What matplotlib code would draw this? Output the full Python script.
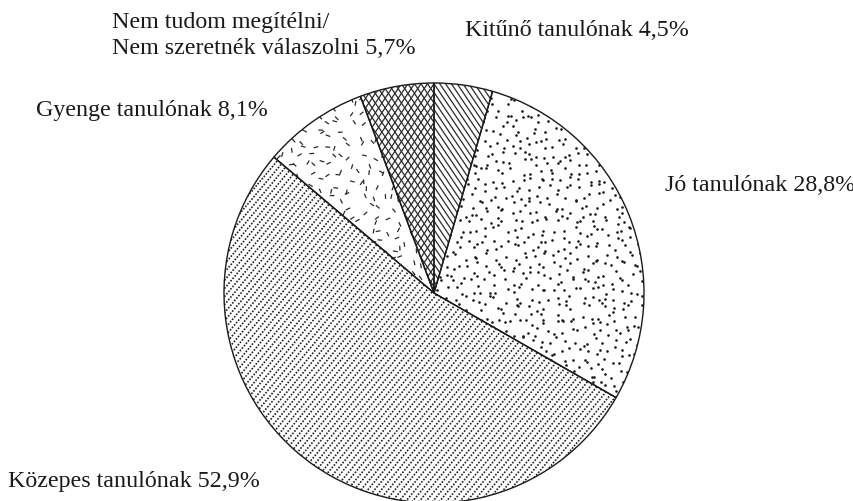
import numpy as np
import matplotlib.pyplot as plt
from matplotlib.collections import LineCollection

# Share of answers, clockwise from 12 o'clock
categories = ["Kitűnő tanulónak", "Jó tanulónak", "Közepes tanulónak",
              "Gyenge tanulónak", "Nem tudom megítélni/\nNem szeretnék válaszolni"]
shares = [4.5, 28.8, 52.9, 8.1, 5.7]

W, H = 854, 501
CX, CY, R = 434, H - 293, 210

plt.rcParams["font.family"] = ["Liberation Serif", "DejaVu Serif"]

fig = plt.figure(figsize=(W / 100, H / 100), dpi=100)
ax = fig.add_axes([0, 0, 1, 1])

wedges, _ = ax.pie(shares, startangle=90, counterclock=False, center=(CX, CY), radius=R,
                   colors=["white"] * len(shares), wedgeprops=dict(linewidth=0, zorder=1))
outline, _ = ax.pie(shares, startangle=90, counterclock=False, center=(CX, CY), radius=R,
                    wedgeprops=dict(facecolor="none", edgecolor="#1a1a1a", linewidth=1.0, zorder=5))
ax.set_xlim(0, W)
ax.set_ylim(0, H)
ax.set_aspect("equal")
ax.axis("off")

rng = np.random.default_rng(7)


def hatch_lines(angle, spacing):
    th = np.radians(angle)
    d = np.array([np.cos(th), np.sin(th)])
    n = np.array([-np.sin(th), np.cos(th)])
    L = R * 1.5
    segs = []
    for t in np.arange(-L, L, spacing):
        c = np.array([CX, CY]) + n * t
        segs.append([c - d * L, c + d * L])
    return segs


def jittered_points(step):
    # grid with random offsets, so the texture looks even without clumps
    g = np.arange(-R, R, step)
    gx, gy = np.meshgrid(g, g)
    pts = np.column_stack([gx.ravel(), gy.ravel()])
    pts = pts + rng.uniform(-step * 0.5, step * 0.5, size=pts.shape)
    return pts + np.array([CX, CY])


def add_clipped(coll, wedge):
    coll.set_zorder(2)
    ax.add_collection(coll)
    coll.set_clip_path(wedge)


# Kitűnő: plain back-slash hatch
add_clipped(LineCollection(hatch_lines(-56, 4.8), colors="#2a2a2a", linewidths=0.9), wedges[0])

# Jó: scattered dots
pts = jittered_points(8.5)
sc = ax.scatter(pts[:, 0], pts[:, 1], s=3.6, color="#1a1a1a", linewidths=0)
sc.set_zorder(2)
sc.set_clip_path(wedges[1])

# Közepes: dotted forward-slash lines
add_clipped(LineCollection(hatch_lines(50, 5.2), colors="#222222", linewidths=1.2,
                           linestyles=[(0, (1.0, 0.9))]), wedges[2])

# Gyenge: short dashes in random directions
pts = jittered_points(10.5)
ang = rng.uniform(0, np.pi, len(pts))
half = 2.4
segs = [[(x - half * np.cos(a), y - half * np.sin(a)), (x + half * np.cos(a), y + half * np.sin(a))]
        for (x, y), a in zip(pts, ang)]
add_clipped(LineCollection(segs, colors="#2a2a2a", linewidths=0.9), wedges[3])

# Nem tudom: cross hatch
add_clipped(LineCollection(hatch_lines(56, 5.4) + hatch_lines(-56, 5.4),
                           colors="#2a2a2a", linewidths=0.9), wedges[4])


def pct(v):
    return f"{v:.1f}%".replace(".", ",")


fs = 17.3
kw = dict(fontsize=fs, va="baseline", ha="left", color="#1a1a1a")
ax.text(465, H - 36, f"{categories[0]} {pct(shares[0])}", **kw)
ax.text(665, H - 191, f"{categories[1]} {pct(shares[1])}", **kw)
ax.text(8, H - 487, f"{categories[2]} {pct(shares[2])}", **kw)
ax.text(36, H - 116, f"{categories[3]} {pct(shares[3])}", **kw)
first, second = categories[4].split("\n")
ax.text(112, H - 28, first, **kw)
ax.text(112, H - 54, f"{second} {pct(shares[4])}", **kw)

fig.savefig("out.png", dpi=100)
